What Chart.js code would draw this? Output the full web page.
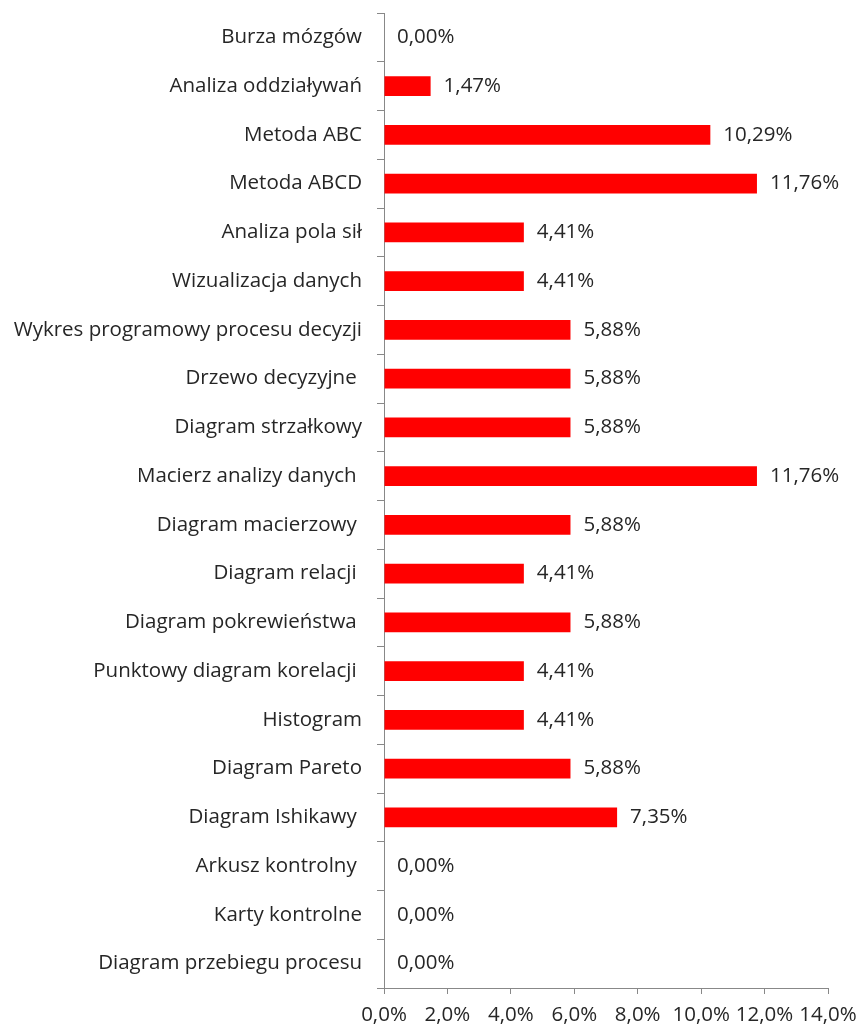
<!DOCTYPE html>
<html>
<head>
<meta charset="utf-8">
<script src="https://cdn.jsdelivr.net/npm/chart.js@4"></script>
<style>
  html, body { margin: 0; padding: 0; background: #fff; }
  #wrap { width: 861px; height: 1028px; }
</style>
</head>
<body>
<div id="wrap"><canvas id="chart" width="861" height="1028"></canvas></div>
<script>
const categories = [
  "Burza mózgów",
  "Analiza oddziaływań",
  "Metoda ABC",
  "Metoda ABCD",
  "Analiza pola sił",
  "Wizualizacja danych",
  "Wykres programowy procesu decyzji",
  "Drzewo decyzyjne ",
  "Diagram strzałkowy",
  "Macierz analizy danych ",
  "Diagram macierzowy ",
  "Diagram relacji ",
  "Diagram pokrewieństwa ",
  "Punktowy diagram korelacji ",
  "Histogram",
  "Diagram Pareto",
  "Diagram Ishikawy ",
  "Arkusz kontrolny ",
  "Karty kontrolne",
  "Diagram przebiegu procesu"
];
const shares = [0, 1.47, 10.29, 11.76, 4.41, 4.41, 5.88, 5.88, 5.88, 11.76,
                5.88, 4.41, 5.88, 4.41, 4.41, 5.88, 7.35, 0, 0, 0];
const xTicks = [0, 2, 4, 6, 8, 10, 12, 14];

const FONT = "'Open Sans', sans-serif";
const SIZE = 20.5;
const fmt = (v, d) => v.toFixed(d).replace(".", ",") + "%";

// value labels to the right of each bar
const barValues = {
  id: "barValues",
  afterDatasetsDraw(chart) {
    const ctx = chart.ctx;
    const meta = chart.getDatasetMeta(0);
    ctx.save();
    ctx.font = SIZE + "px " + FONT;
    ctx.fillStyle = "#262626";
    ctx.textAlign = "left";
    ctx.textBaseline = "middle";
    meta.data.forEach((bar, i) => {
      ctx.fillText(fmt(shares[i], 2), bar.x + 13, bar.y);
    });
    ctx.restore();
  }
};

new Chart(document.getElementById("chart"), {
  type: "bar",
  data: {
    labels: categories,
    datasets: [{
      data: shares,
      backgroundColor: "#ff0000",
      borderWidth: 0,
      barPercentage: 0.41,
      categoryPercentage: 1
    }]
  },
  options: {
    indexAxis: "y",
    responsive: false,
    animation: false,
    layout: { padding: { top: 13, right: 33, left: 0, bottom: 0 } },
    plugins: { legend: { display: false }, tooltip: { enabled: false } },
    scales: {
      y: {
        afterFit(scale) {
          scale.width = 384;
          scale.paddingTop = 0;
          scale.paddingBottom = 0;
        },
        grid: {
          drawOnChartArea: false,
          tickLength: 7,
          color: "#888",
          offset: true
        },
        border: { color: "#888", width: 1 },
        ticks: {
          color: "#262626",
          font: { family: FONT, size: SIZE },
          padding: 15,
          autoSkip: false
        }
      },
      x: {
        min: 0,
        max: 14,
        afterFit(scale) {
          scale.height = 40;
          scale.paddingLeft = 0;
          scale.paddingRight = 0;
        },
        afterBuildTicks(scale) { scale.ticks = xTicks.map(v => ({ value: v })); },
        grid: { drawOnChartArea: false, tickLength: 6, color: "#888" },
        border: { color: "#888", width: 1 },
        ticks: {
          color: "#262626",
          font: { family: FONT, size: SIZE },
          padding: 9,
          maxRotation: 0,
          callback: v => fmt(v, 1)
        }
      }
    }
  },
  plugins: [barValues]
});
</script>
</body>
</html>
